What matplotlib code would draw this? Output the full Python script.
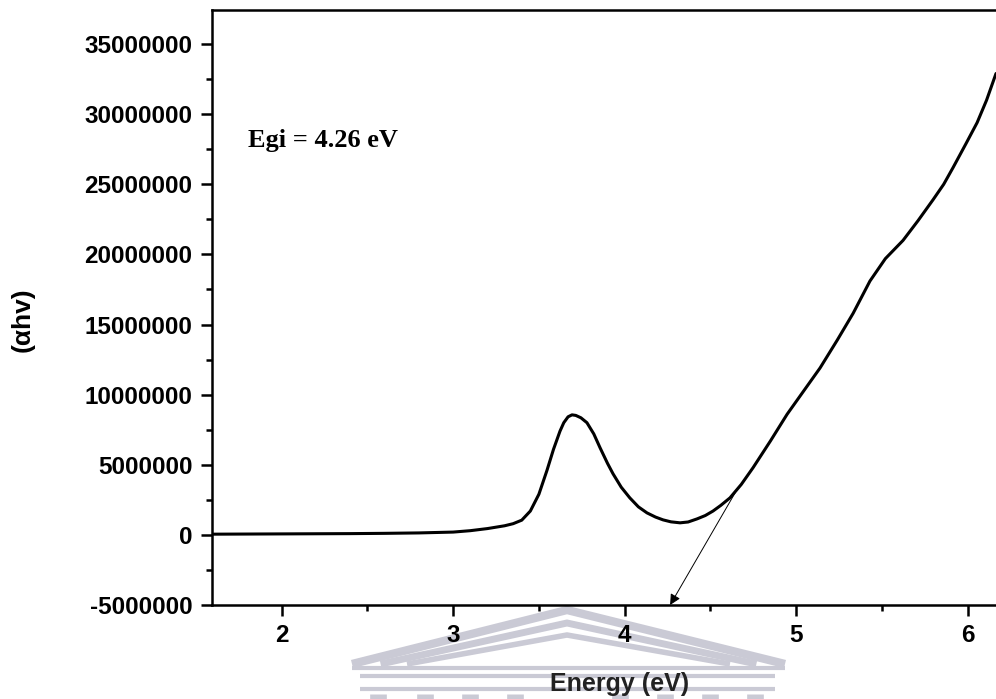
import matplotlib
matplotlib.use("Agg")
import matplotlib.pyplot as plt
from matplotlib.lines import Line2D
from matplotlib.ticker import MultipleLocator

# absorption curve (energy in eV, alpha*hv)
energy = [1.594, 1.8, 2.0, 2.2, 2.4, 2.6, 2.8, 3.0, 3.1, 3.2, 3.3, 3.35, 3.4,
          3.45, 3.5, 3.547, 3.585, 3.623, 3.645, 3.67, 3.693, 3.715, 3.745,
          3.78, 3.82, 3.857, 3.9, 3.932, 3.98, 4.03, 4.08, 4.13, 4.18, 4.224,
          4.27, 4.323, 4.37, 4.422, 4.47, 4.515, 4.56, 4.614, 4.68, 4.749,
          4.85, 4.947, 5.04, 5.139, 5.24, 5.332, 5.43, 5.52, 5.623, 5.71,
          5.798, 5.86, 5.915, 5.99, 6.055, 6.11, 6.165]
ahv_m = [0.05, 0.06, 0.07, 0.08, 0.09, 0.11, 0.14, 0.2, 0.3, 0.45, 0.65, 0.8,
         1.05, 1.7, 2.9, 4.6, 6.1, 7.4, 8.0, 8.42, 8.56, 8.52, 8.35, 8.0, 7.2,
         6.2, 5.1, 4.36, 3.4, 2.64, 2.0, 1.57, 1.27, 1.07, 0.93, 0.86, 0.92,
         1.14, 1.38, 1.7, 2.1, 2.64, 3.6, 4.8, 6.7, 8.6, 10.2, 11.9, 13.9,
         15.8, 18.1, 19.7, 21.0, 22.4, 23.9, 25.0, 26.2, 27.9, 29.4, 31.0, 32.9]
ahv = [v * 1e6 for v in ahv_m]

# tangent extrapolation arrow: from point on curve to the energy axis
tangent_start = (4.644, 3.0e6)
tangent_end = (4.265, -5.0e6)
egi_label = "Egi = 4.26 eV"

XLIM = (1.594, 6.165)
YLIM = (-5.0e6, 37.43e6)

fig = plt.figure(figsize=(9.96, 6.99), dpi=100)
ax = fig.add_axes([212 / 996, 94 / 699, 784 / 996, 595 / 699])
ax.set_facecolor("none")

ax.plot(energy, ahv, color="black", lw=2.2, solid_capstyle="round",
        solid_joinstyle="round", zorder=3)
ax.annotate("", xy=tangent_end, xytext=tangent_start,
            arrowprops=dict(arrowstyle="-|>", color="black", lw=0.7,
                            mutation_scale=16, shrinkA=0, shrinkB=0),
            annotation_clip=False, zorder=4)
ax.text(1.804, 28.1e6, egi_label, family="Liberation Serif", fontweight="bold",
        fontsize=19, ha="left", va="center")

ax.set_xlim(*XLIM)
ax.set_ylim(*YLIM)
ax.xaxis.set_major_locator(MultipleLocator(1))
ax.xaxis.set_minor_locator(MultipleLocator(0.5))
ax.yaxis.set_major_locator(MultipleLocator(5e6))
ax.yaxis.set_minor_locator(MultipleLocator(2.5e6))
ax.yaxis.set_major_formatter(plt.FuncFormatter(lambda v, p: f"{v:.0f}"))

for s in ("left", "bottom", "top"):
    ax.spines[s].set_linewidth(1.8)
ax.spines["right"].set_visible(False)
ax.tick_params(which="both", direction="out", width=1.8, top=False, right=False)
ax.tick_params(which="major", length=8, pad=6)
ax.tick_params(which="minor", length=4.5)
for lab in ax.get_xticklabels() + ax.get_yticklabels():
    lab.set_family("Liberation Sans")
    lab.set_fontweight("bold")
    lab.set_fontsize(17.5)

ax.set_xlabel("Energy (eV)", family="Liberation Sans", fontweight="bold",
              fontsize=18, color="#222222", va="center")
ax.xaxis.set_label_coords(0.52, -0.133)
ax.set_ylabel("(\u03b1hv)", family="Liberation Sans", fontweight="bold",
              fontsize=19)
ax.yaxis.set_label_coords(-0.226, 0.479)

# faint building watermark at the bottom (figure pixel coordinates)
wm = dict(color="#cacad5", transform=None, zorder=-1,
          solid_capstyle="butt", solid_joinstyle="miter")
H = 699
for dy, lw in ((0, 6), (13, 5), (25, 4)):
    fig.add_artist(Line2D([352 + dy * 2.2, 567, 785 - dy * 2.2],
                          [H - 664, H - (610 + dy), H - 664],
                          lw=lw, **wm))
fig.add_artist(Line2D([352, 785], [H - 668, H - 668], lw=3, **wm))
fig.add_artist(Line2D([360, 775], [H - 676, H - 676], lw=3, **wm))
fig.add_artist(Line2D([360, 775], [H - 689, H - 689], lw=3, **wm))
for cx in (378, 425, 470, 515, 620, 665, 710, 755):
    fig.add_artist(Line2D([cx, cx], [H - 699, H - 694], lw=12, **wm))

fig.savefig("out.png", dpi=100, facecolor="white")
